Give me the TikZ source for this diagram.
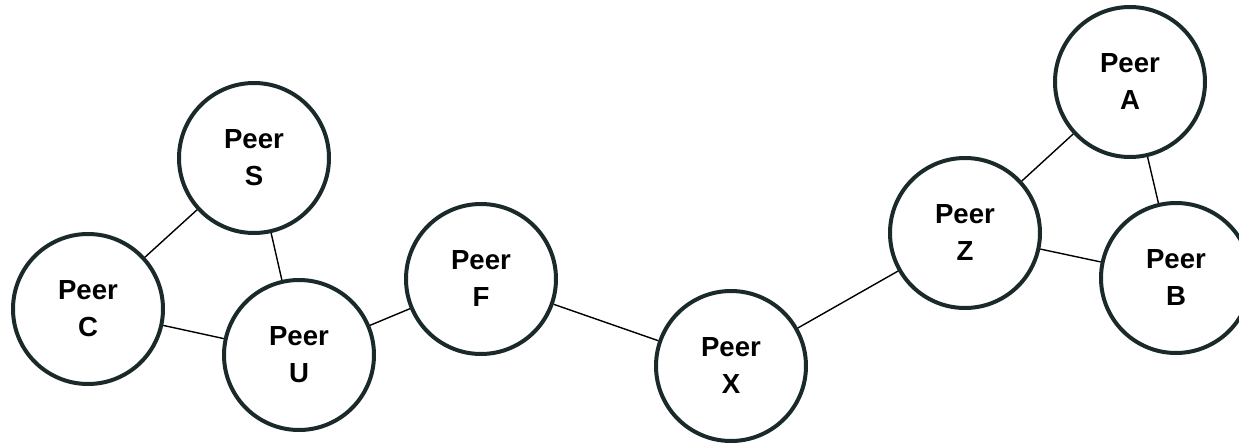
\documentclass[tikz,border=0pt]{standalone}
\usepackage{fontspec}
\setmainfont{Liberation Sans}
\definecolor{peerline}{HTML}{1A2929}

\begin{document}
\begin{tikzpicture}[x=0.5pt, y=-0.5pt,
    peer/.style={circle, draw=peerline, line width=2pt, minimum size=75pt, inner sep=0pt,
      align=center, font=\fontsize{13.8}{18.5}\selectfont\bfseries},
    link/.style={line width=0.7pt}]
      \useasboundingbox (0,0) rectangle (1239,445);
      \clip (0,0) rectangle (1239,445);

      \node[peer] (peerS) at (254,158) {Peer\\S};
      \node[peer] (peerC) at (88,309)  {Peer\\C};
      \node[peer] (peerU) at (299,355) {Peer\\U};
      \node[peer] (peerF) at (481,279) {Peer\\F};
      \node[peer] (peerX) at (731,366) {Peer\\X};
      \node[peer] (peerZ) at (965,233) {Peer\\Z};
      \node[peer] (peerA) at (1130,82) {Peer\\A};
      \node[peer] (peerB) at (1176,278) {Peer\\B};

      \draw[link] (peerS) to (peerC);
      \draw[link] (peerS) to (peerU);
      \draw[link] (peerC) to (peerU);
      \draw[link] (peerU) to (peerF);
      \draw[link] (peerF) to (peerX);
      \draw[link] (peerX) to (peerZ);
      \draw[link] (peerZ) to (peerA);
      \draw[link] (peerZ) to (peerB);
      \draw[link] (peerA) to (peerB);
    \end{tikzpicture}
\end{document}
